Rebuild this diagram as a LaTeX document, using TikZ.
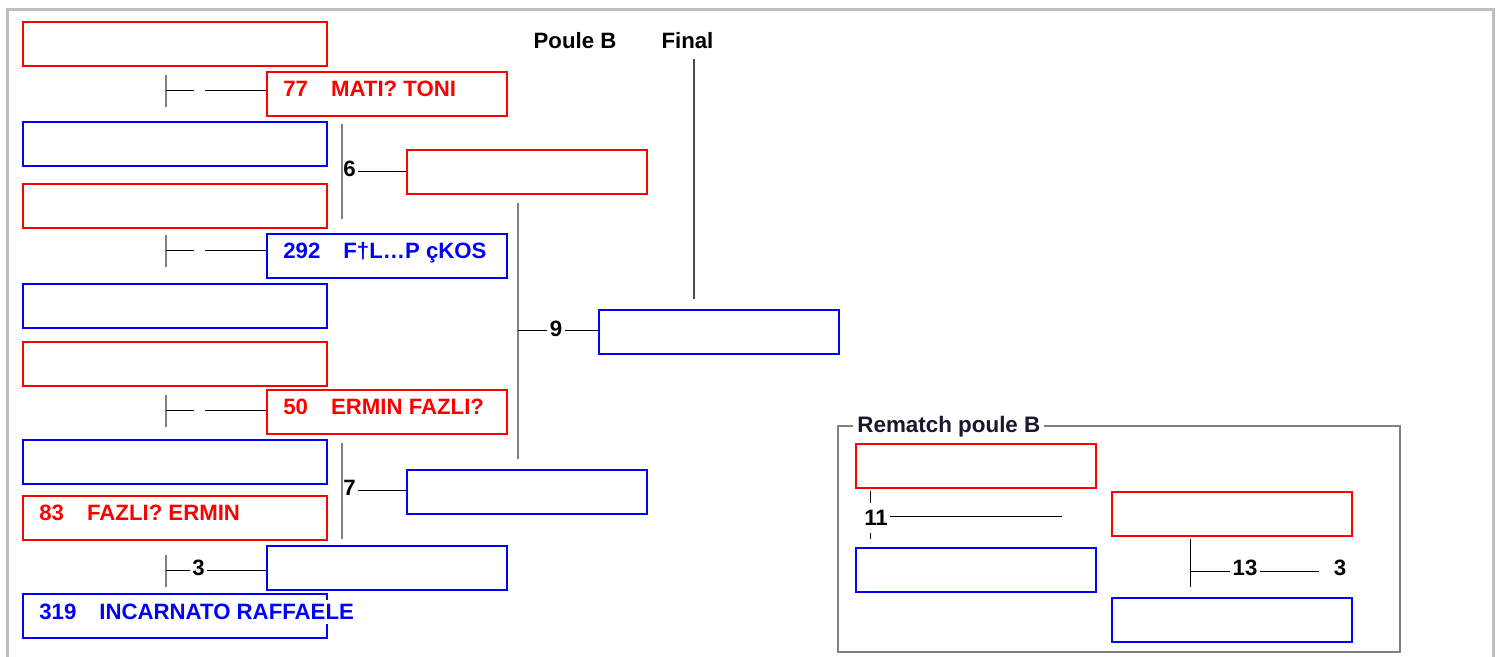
\documentclass[tikz,border=0pt]{standalone}
\usepackage{fontspec}
\setmainfont{Liberation Sans}
\usetikzlibrary{calc}
\definecolor{legendink}{RGB}{25,25,45}

\begin{document}
\begin{tikzpicture}[x=0.5pt, y=-0.5pt,
    redbox/.style ={draw=red, line width=1pt, minimum height=22pt, inner sep=0pt},
    bluebox/.style ={draw=blue, line width=1pt, minimum height=22pt, inner sep=0pt},
    wide/.style ={minimum width=152pt},
    narrow/.style ={minimum width=120pt},
    entrant/.style ={anchor=base west, inner sep=2pt, fill=white, font=\bfseries\fontsize{11.1}{12}\selectfont},
    score/.style ={inner sep=1pt, font=\bfseries\fontsize{11.1}{12}\selectfont},
    blank/.style ={inner sep=0pt, minimum width=5.5pt},
    stub/.style ={draw=gray, line width=0.8pt},
    wire/.style ={draw=black, line width=0.5pt}]
   \useasboundingbox (0,0) rectangle (1496,657);
   \draw[line width=1.5pt, draw=black!25] (7,657) -- (7,10) -- (1493,10) -- (1493,657);

   % headers
   \node[score] (hpoule) at (575,41) {Poule B};
   \node[score] (hfinal) at (687.5,41) {Final};

   % first round
   \node[redbox,wide] (a1) at (175,44) {};
   \node[bluebox,wide] (a2) at (175,144) {};
   \node[redbox,wide] (a3) at (175,206.5) {};
   \node[bluebox,wide] (a4) at (175,306) {};
   \node[redbox,wide] (a5) at (175,364) {};
   \node[bluebox,wide] (a6) at (175,462) {};
   \node[redbox,wide] (a7) at (175,518) {};
   \node[bluebox,wide] (a8) at (175,616) {};

   \node[redbox,narrow] (b1) at (387,94) {};
   \node[bluebox,narrow] (b2) at (387,256) {};
   \node[redbox,narrow] (b3) at (387,412) {};
   \node[bluebox,narrow] (b4) at (387,568) {};

   \node[redbox,narrow] (c1) at (527,172) {};
   \node[bluebox,narrow] (c2) at (527,492) {};
   \node[bluebox,narrow] (fin) at (719,332) {};

   \node[entrant,text=red] (e77) at ($(b1.north west)+(13,26)$) {77\hspace{11.5pt}MATI? TONI};
   \node[entrant,text=blue] (e292) at ($(b2.north west)+(13,26)$) {292\hspace{11.5pt}F†L…P çKOS};
   \node[entrant,text=red] (e50) at ($(b3.north west)+(13,26)$) {50\hspace{11.5pt}ERMIN FAZLI?};
   \node[entrant,text=red] (e83) at ($(a7.north west)+(13,26)$) {83\hspace{11.5pt}FAZLI? ERMIN};
   \node[entrant,text=blue] (e319) at ($(a8.north west)+(13,27)$) {319\hspace{11.5pt}INCARNATO RAFFAELE};

   % ties into the second column
   \coordinate (k1) at (166,91);
   \coordinate (k2) at (166,251);
   \coordinate (k3) at (166,411);
   \coordinate (k4) at (166,571);
   \node[blank] (s1) at (199.5,91) {};
   \node[blank] (s2) at (199.5,251) {};
   \node[blank] (s3) at (199.5,411) {};
   \node[score] (s4) at (198.5,568) {3};

   \draw[stub] ([yshift=8pt]k1) -- ([yshift=-8pt]k1);
   \draw[stub] ([yshift=8pt]k2) -- ([yshift=-8pt]k2);
   \draw[stub] ([yshift=8pt]k3) -- ([yshift=-8pt]k3);
   \draw[stub] ([yshift=8pt]k4) -- ([yshift=-8pt]k4);
   \draw[wire] (k1) -- (s1);
   \draw[wire] (s1) -- (s1 -| b1.west);
   \draw[wire] (k2) -- (s2);
   \draw[wire] (s2) -- (s2 -| b2.west);
   \draw[wire] (k3) -- (s3);
   \draw[wire] (s3) -- (s3 -| b3.west);
   \draw[wire] (k4) -- (k4 -| s4.west);
   \draw[wire] (k4 -| s4.east) -- (k4 -| b4.west);

   % third column
   \coordinate (v6t) at (342,124);
   \coordinate (v6b) at (342,219);
   \coordinate (v7t) at (342,443);
   \coordinate (v7b) at (342,539);
   \node[score,anchor=west] (s6) at (341,169) {6};
   \node[score,anchor=west] (s7) at (341,488) {7};
   \draw[stub] (v6t) -- (v6b);
   \draw[stub] (v7t) -- (v7b);
   \draw[wire] ([yshift=-1.5pt]s6.east) -- ([yshift=-1.5pt]s6.east -| c1.west);
   \draw[wire] ([yshift=-1.5pt]s7.east) -- ([yshift=-1.5pt]s7.east -| c2.west);

   % semi final and final
   \coordinate (v9t) at (518,203);
   \coordinate (v9b) at (518,459);
   \coordinate (k9) at (518,331);
   \node[score] (s9) at (556,329) {9};
   \draw[stub] (v9t) -- (v9b);
   \draw[wire] (k9) -- (k9 -| s9.west);
   \draw[wire] (k9 -| s9.east) -- (k9 -| fin.west);
   \coordinate (ft) at (694,59);
   \coordinate (fb) at (694,299);
   \draw[stub,draw=black!70,line width=0.6pt] (ft) -- (fb);

   % rematch
   \node[draw=black!50, line width=1pt, minimum width=281pt, minimum height=113pt, inner sep=0pt] (rm) at (1119,539) {};
   \node[anchor=base west, fill=white, inner xsep=2pt, inner ysep=1pt, text=legendink,
         font=\bfseries\fontsize{11.2}{12}\selectfont] (rmlabel) at (853,433) {Rematch poule B};
   \node[redbox,narrow] (r1) at (975.5,466.5) {};
   \node[bluebox,narrow] (r2) at (975.5,570) {};
   \node[redbox,narrow] (r3) at (1231.5,514) {};
   \node[bluebox,narrow] (r4) at (1231.5,620) {};

   \coordinate (v11t) at (870,491);
   \coordinate (v11b) at (870,539);
   \coordinate (e11) at (1062,517);
   \draw[wire] (v11t) -- (v11b);
   \node[score,fill=white,inner ysep=3.5pt] (s11) at (876,518) {11};
   \draw[wire] (s11.east |- e11) -- (e11);

   \coordinate (v13t) at (1190,539);
   \coordinate (v13b) at (1190,587);
   \coordinate (k13) at (1190,572);
   \coordinate (e13) at (1319,572);
   \node[score] (s13) at (1245,568) {13};
   \node[score] (s3b) at (1340,568) {3};
   \draw[wire] (v13t) -- (v13b);
   \draw[wire] (k13) -- (k13 -| s13.west);
   \draw[wire] (k13 -| s13.east) -- (e13);
\end{tikzpicture}
\end{document}
